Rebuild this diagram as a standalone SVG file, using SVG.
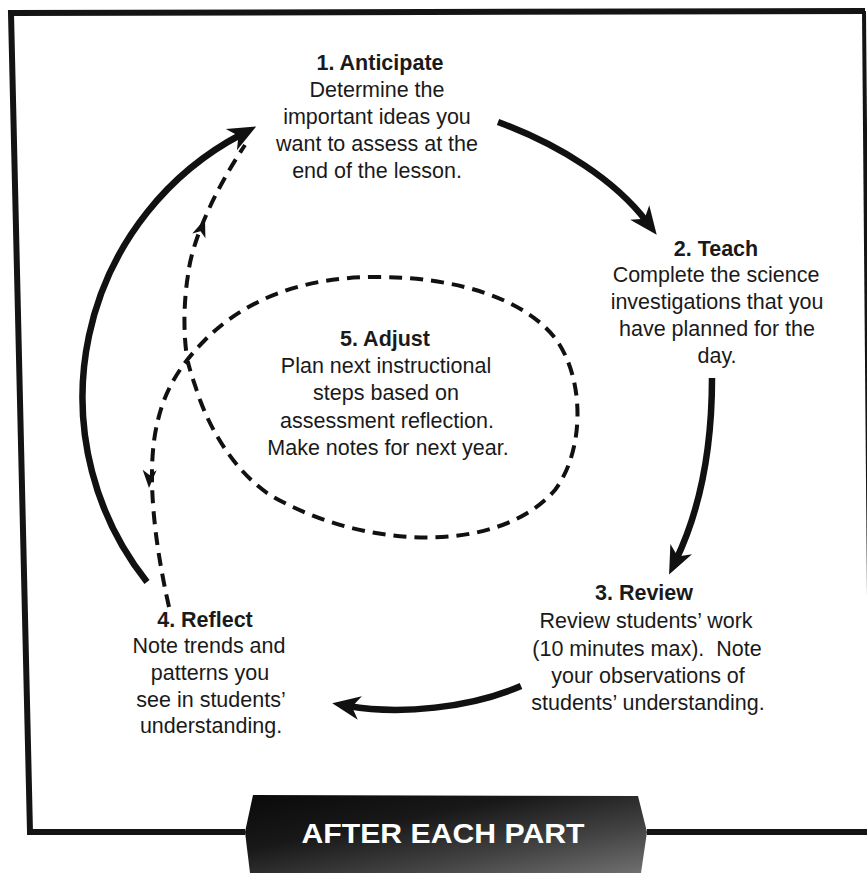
<svg xmlns="http://www.w3.org/2000/svg" width="867" height="873" viewBox="0 0 867 873">
<style>
.t{font-family:"Liberation Sans",Arial,sans-serif;font-size:21.5px;fill:#1a1a1a;text-anchor:middle}
.h{font-weight:bold}
.solid{fill:none;stroke:#111;stroke-width:6.5;stroke-linecap:butt}
.dash{fill:none;stroke:#111;stroke-width:4;stroke-dasharray:13 8}
.frame{fill:none;stroke:#141414;stroke-width:6}
</style>
<defs>
<marker id="ah" viewBox="-2 -14 34 28" refX="12" refY="0" markerWidth="34" markerHeight="28" markerUnits="userSpaceOnUse" orient="auto">
<path d="M0,-12 L28,0 L0,12 L8,0 Z" fill="#111"/>
</marker>
<path id="dh" d="M0,0 L-18,-7 L-13,0 L-18,7 Z" fill="#111"/>
<linearGradient id="bg" x1="0" y1="0" x2="1" y2="1">
<stop offset="0" stop-color="#0a0a0a"/>
<stop offset="0.35" stop-color="#181818"/>
<stop offset="0.7" stop-color="#444"/>
<stop offset="1" stop-color="#707070"/>
</linearGradient>
</defs>

<g id="frame">
<path class="frame" d="M245,832 L30,832 L11,13 L865,11"/>
<path class="frame" d="M647,832 L867,832"/>
<path fill="none" stroke="#141414" stroke-width="4" d="M864,11 L871,832"/>
</g>

<g id="connectors">
<path class="solid" marker-end="url(#ah)" d="M498,122 C560,145 615,180 647,222"/>
<path class="solid" marker-end="url(#ah)" d="M712,378 C712,450 700,510 676,560"/>
<path class="solid" marker-end="url(#ah)" d="M521,686 C470,708 400,715 348,706"/>
<path class="solid" marker-end="url(#ah)" d="M147,582 A297,297 0 0 1 242,134"/>
<path class="dash" d="M169,607 C155,545 145,470 158,420 C165,390 180,365 205,340 C250,295 310,277 376,277 C460,277 525,300 555,338 C585,378 585,450 555,490 C520,530 460,540 410,537 C350,533 305,515 270,495 C240,475 215,440 200,400 C195,385 190,372 187,358 C183,330 184,300 188,275 C192,240 215,190 245,145"/>
<use href="#dh" transform="translate(149,488) rotate(92)"/>
<use href="#dh" transform="translate(205,219) rotate(-70)"/>
</g>

<g id="node1">
<text class="t h" x="380" y="70">1. Anticipate</text>
<text class="t" x="377" y="97">Determine the</text>
<text class="t" x="377" y="124">important ideas you</text>
<text class="t" x="377" y="151">want to assess at the</text>
<text class="t" x="377" y="178">end of the lesson.</text>
</g>

<g id="node2">
<text class="t h" x="716" y="256">2. Teach</text>
<text class="t" x="716" y="282">Complete the science</text>
<text class="t" x="717" y="309">investigations that you</text>
<text class="t" x="717" y="336">have planned for the</text>
<text class="t" x="717" y="363">day.</text>
</g>

<g id="node3">
<text class="t h" x="644" y="600">3. Review</text>
<text class="t" x="646" y="628">Review students’ work</text>
<text class="t" x="647" y="656" xml:space="preserve">(10 minutes max).  Note</text>
<text class="t" x="648" y="683">your observations of</text>
<text class="t" x="648" y="710">students’ understanding.</text>
</g>

<g id="node4">
<text class="t h" x="205" y="627">4. Reflect</text>
<text class="t" x="209" y="653">Note trends and</text>
<text class="t" x="210" y="680">patterns you</text>
<text class="t" x="211" y="707">see in students’</text>
<text class="t" x="211" y="733">understanding.</text>
</g>

<g id="node5">
<text class="t h" x="385" y="346">5. Adjust</text>
<text class="t" x="386" y="373">Plan next instructional</text>
<text class="t" x="386" y="400">steps based on</text>
<text class="t" x="387" y="428">assessment reflection.</text>
<text class="t" x="388" y="455">Make notes for next year.</text>
</g>

<g id="banner">
<path d="M253,795 L638,796 L647,832 L641,873 L250,873 L245,832 Z" fill="url(#bg)"/>
<text x="443" y="843" font-family="'Liberation Sans',Arial,sans-serif" font-size="28" font-weight="bold" fill="#fff" text-anchor="middle" textLength="283" lengthAdjust="spacingAndGlyphs">AFTER EACH PART</text>
</g>
</svg>
